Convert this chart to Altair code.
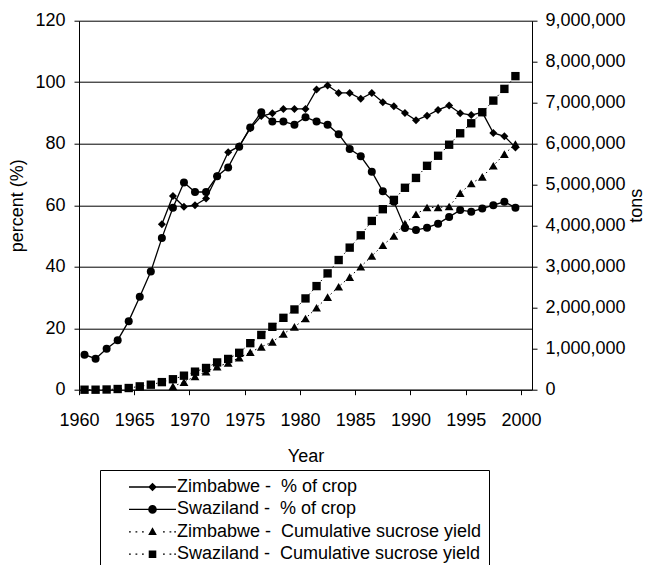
import altair as alt
import pandas as pd

FONT = "Liberation Sans"

# ---------------- data ----------------
swa_years = list(range(1960, 2000))
swa_pct = [11.4, 10.1, 13.3, 16.1, 22.3, 30.2, 38.4, 49.3, 59.2, 67.4,
           64.3, 64.3, 69.4, 72.3, 79.0, 85.3, 90.2, 87.2, 87.2, 86.2,
           88.6, 87.2, 86.2, 83.1, 78.3, 75.9, 70.9, 64.5, 61.1, 52.6,
           51.9, 52.7, 54.0, 56.2, 58.4, 57.9, 58.9, 60.0, 61.1, 59.2]
swa_cum = [0, 0, 5000, 17000, 41000, 81000, 122000, 185000, 255000, 342000,
           440000, 530000, 665000, 750000, 900000, 1135000, 1335000, 1533000, 1753000, 1957000,
           2226000, 2527000, 2837000, 3163000, 3465000, 3766000, 4116000, 4402000, 4630000, 4925000,
           5165000, 5461000, 5706000, 5975000, 6254000, 6498000, 6767000, 7051000, 7337000, 7648000]
zim_pct_years = list(range(1967, 2000))
zim_pct = [53.8, 63.0, 59.5, 60.0, 62.2, 69.5, 77.2, 79.2, 85.0, 89.0,
           89.9, 91.3, 91.3, 91.3, 97.6, 98.9, 96.5, 96.5, 94.6, 96.5,
           93.5, 92.2, 90.0, 87.6, 89.1, 91.0, 92.4, 89.9, 89.3, 90.2,
           83.5, 82.4, 78.8]
zim_cum_years = list(range(1968, 2000))
zim_cum = [81000, 185000, 325000, 440000, 560000, 650000, 782000, 913000, 1045000, 1166000,
           1362000, 1533000, 1736000, 1998000, 2258000, 2511000, 2747000, 3000000, 3260000, 3522000,
           3750000, 4050000, 4280000, 4444000, 4444000, 4468000, 4794000, 5030000, 5192000, 5461000,
           5747000, 5992000]

series_names = [
    "Zimbabwe - \u00a0% of crop",
    "Swaziland - \u00a0% of crop",
    "Zimbabwe - \u00a0Cumulative sucrose yield",
    "Swaziland - \u00a0Cumulative sucrose yield",
]
pct_ticks = [0, 20, 40, 60, 80, 100, 120]
ton_ticks = [0, 1000000, 2000000, 3000000, 4000000, 5000000, 6000000, 7000000, 8000000, 9000000]
year_ticks = [1960, 1965, 1970, 1975, 1980, 1985, 1990, 1995, 2000]

# legend symbols: line + marker drawn as filled custom paths in a [-1,1] box
_solid = "M-1,0M-0.362,-0.019H1V0.019H-0.362Z"
_dots = ("M-1,0"
         "M-0.362,-0.019H-0.31V0.019H-0.362Z"
         "M-0.174,-0.019H-0.122V0.019H-0.174Z"
         "M0.014,-0.019H0.066V0.019H0.014Z"
         "M0.623,-0.019H0.675V0.019H0.623Z"
         "M0.812,-0.019H0.864V0.019H0.812Z"
         "M0.948,-0.019H1V0.019H0.948Z")
legend_paths = [
    _solid + "M0.194,0L0.319,-0.125L0.444,0L0.319,0.125Z",
    _solid + "M0.194,0A0.125,0.125 0 0,1 0.444,0A0.125,0.125 0 0,1 0.194,0Z",
    _dots + "M0.319,-0.13L0.444,0.095L0.194,0.095Z",
    _dots + "M0.209,-0.11H0.429V0.11H0.209Z",
]

df_zp = pd.DataFrame({"year": zim_pct_years, "value": zim_pct})
df_sp = pd.DataFrame({"year": swa_years, "value": swa_pct})
df_zc = pd.DataFrame({"year": zim_cum_years, "value": zim_cum})
df_sc = pd.DataFrame({"year": swa_years, "value": swa_cum})
df_leg = pd.DataFrame({"series": series_names})

common_axis = dict(domainColor="black", domainWidth=1, tickColor="black", tickWidth=1,
                   tickSize=5, labelFont=FONT, labelFontSize=18, labelColor="black",
                   titleFont=FONT, titleFontSize=18, titleFontWeight="normal",
                   titleColor="black")

x_enc = alt.X("xpos:Q",
              scale=alt.Scale(domain=[1960, 2001], nice=False, zero=False),
              axis=alt.Axis(title="Year", values=year_ticks, format="d", grid=False,
                            labelPadding=17, titlePadding=18, labelFlush=False,
                            labelOverlap=False, **common_axis))
y_pct = alt.Y("value:Q",
              scale=alt.Scale(domain=[0, 120], nice=False),
              axis=alt.Axis(title="percent (%)", values=pct_ticks, grid=True,
                            gridColor="black", gridWidth=1, gridOpacity=1,
                            labelPadding=9, titlePadding=8, **common_axis))
y_ton = alt.Y("value:Q",
              scale=alt.Scale(domain=[0, 9000000], nice=False),
              axis=alt.Axis(title="tons", orient="right", values=ton_ticks, format=",d",
                            grid=False, labelPadding=8, titlePadding=2,
                            titleAngle=270, titleBaseline="top", **common_axis))


def base(df):
    return alt.Chart(df).transform_calculate(xpos="datum.year + 0.5")


zp_line = base(df_zp).mark_line(color="black", strokeWidth=1.3).encode(x=x_enc, y=y_pct)
zp_pts = base(df_zp).mark_point(shape="diamond", filled=True, color="black", size=64,
                                opacity=1).encode(x=x_enc, y=y_pct)
sp_line = base(df_sp).mark_line(color="black", strokeWidth=1.3).encode(x=x_enc, y=y_pct)
sp_pts = base(df_sp).mark_point(shape="circle", filled=True, color="black", size=64,
                                opacity=1).encode(x=x_enc, y=y_pct)

legend_layer = alt.Chart(df_leg).transform_filter("false").mark_point(
    filled=True, color="black", opacity=1
).encode(
    shape=alt.Shape("series:N",
                    scale=alt.Scale(domain=series_names, range=legend_paths),
                    legend=alt.Legend(title=None, orient="none", legendX=21, legendY=449.3,
                                      direction="vertical", columns=1, padding=7,
                                      rowPadding=2.4, clipHeight=20, strokeColor="black",
                                      symbolSize=4761, symbolStrokeWidth=0,
                                      symbolFillColor="black", symbolStrokeColor="black",
                                      symbolOpacity=1, labelFont=FONT, labelFontSize=18,
                                      labelColor="black", labelOffset=1, labelLimit=600))
)

zc_line = base(df_zc).mark_line(color="black", strokeWidth=1,
                                strokeDash=[1.5, 3]).encode(x=x_enc, y=y_ton)
zc_pts = base(df_zc).mark_point(shape="triangle-up", filled=True, color="black", size=78,
                                opacity=1).encode(x=x_enc, y=y_ton)
sc_line = base(df_sc).mark_line(color="black", strokeWidth=1,
                                strokeDash=[1.5, 3]).encode(x=x_enc, y=y_ton)
sc_pts = base(df_sc).mark_point(shape="square", filled=True, color="black", size=70,
                                opacity=1).encode(x=x_enc, y=y_ton)

pct_group = alt.layer(zp_line, sp_line, zp_pts, sp_pts, legend_layer)
ton_group = alt.layer(zc_line, sc_line, zc_pts, sc_pts)

chart = alt.layer(pct_group, ton_group).resolve_scale(y="independent").properties(
    width=453, height=369,
    padding={"left": 71, "top": 12.7, "right": 113, "bottom": 175.3},
    autosize=alt.AutoSizeParams(type="none"),
    background="white",
).configure_view(stroke=None)

chart.save("out.html", embed_options={"renderer": "svg", "actions": False})
